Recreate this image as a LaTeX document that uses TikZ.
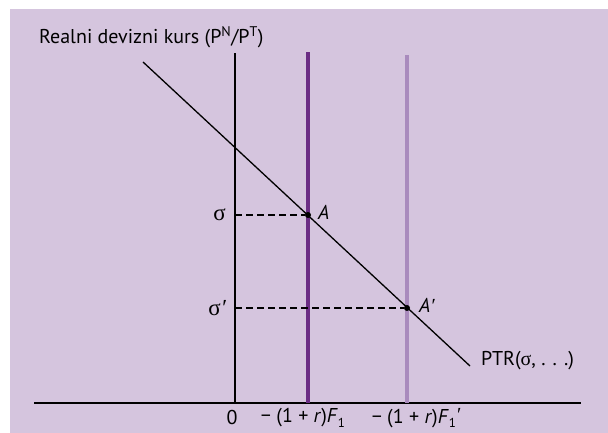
\documentclass[tikz,border=0pt]{standalone}
\usepackage{fontspec}
\setmainfont{PT Sans}
\newfontfamily\symfont{Liberation Serif}
\usetikzlibrary{positioning,calc}

\definecolor{bgpurple}{HTML}{D5C5DE}
\definecolor{darkpurple}{HTML}{6B2D84}
\definecolor{lightpurple}{HTML}{A98BBD}

\newcommand{\sig}{{\symfont σ}}
\newcommand{\prm}{{\symfont\itshape ′}}
\newcommand{\sub}[1]{\raisebox{-.45ex}{\fontsize{13}{13}\selectfont #1}}

\begin{document}
\begin{tikzpicture}[x=1pt,y=1pt]
\tikzset{lbl/.style={font=\fontsize{20}{22}\selectfont,inner sep=1pt},
         axis/.style={line width=1.8pt},
         guide/.style={line width=1.6pt,dashed,dash pattern=on 7pt off 4pt},
         dot/.style={circle,fill=black,inner sep=0pt,minimum size=6pt}}
\useasboundingbox (0,0) rectangle (608,433);
\fill[bgpurple] (10,0) rectangle (608,424);

% axes
\coordinate (O) at (235,30);
\coordinate (ytop) at (235,380);
\coordinate (xs) at (34,30);
\coordinate (xe) at (581,30);
\draw[axis] (xs) -- (xe);
\draw[axis] (O) -- (ytop);

% the two vertical lines
\coordinate (f1b) at (308,30);
\coordinate (f1t) at (308,381);
\coordinate (f2b) at (407,30);
\coordinate (f2t) at (407,378);
\draw[darkpurple,line width=4.5pt] (f1b) -- (f1t);
\draw[lightpurple,line width=4.5pt] (f2b) -- (f2t);

% PTR line
\coordinate (ps) at (143,371);
\coordinate (pe) at (470,67);
\draw[line width=1.3pt] (ps) -- (pe);

% equilibrium points
\node[dot] (A) at (308,218) {};
\node[dot] (A2) at (407,125) {};
\coordinate (s1) at (235,218);
\coordinate (s2) at (235,125);
\draw[guide] (s1) -- (A);
\draw[guide] (s2) -- (A2);

% labels
\node[lbl,anchor=west] (title) at (38,396) {Realni devizni kurs (P\textsuperscript{N}/P\textsuperscript{T})};
\node[lbl,left=8pt of s1] (sigA) {\fontsize{23}{24}\selectfont\sig};
\node[lbl,left=8pt of s2] (sigB) {\fontsize{23}{24}\selectfont\sig\prm};
\node[lbl,anchor=south west] (labA) at (317,212) {\textit{A}};
\node[lbl,anchor=south west] (labA2) at (418,119) {\textit{A}\prm};
\node[lbl,anchor=west] (ptr) at (480,72) {PTR(\sig, . . .)};
\node[lbl] (zero) at (232,15) {0};
\node[lbl] (lf1) at (303,15) {− (1 + \textit{r})\textit{F}\sub{1}};
\node[lbl] (lf2) at (416,15) {− (1 + \textit{r})\textit{F}\sub{1}\raisebox{.2ex}{\prm}};
\end{tikzpicture}
\end{document}
